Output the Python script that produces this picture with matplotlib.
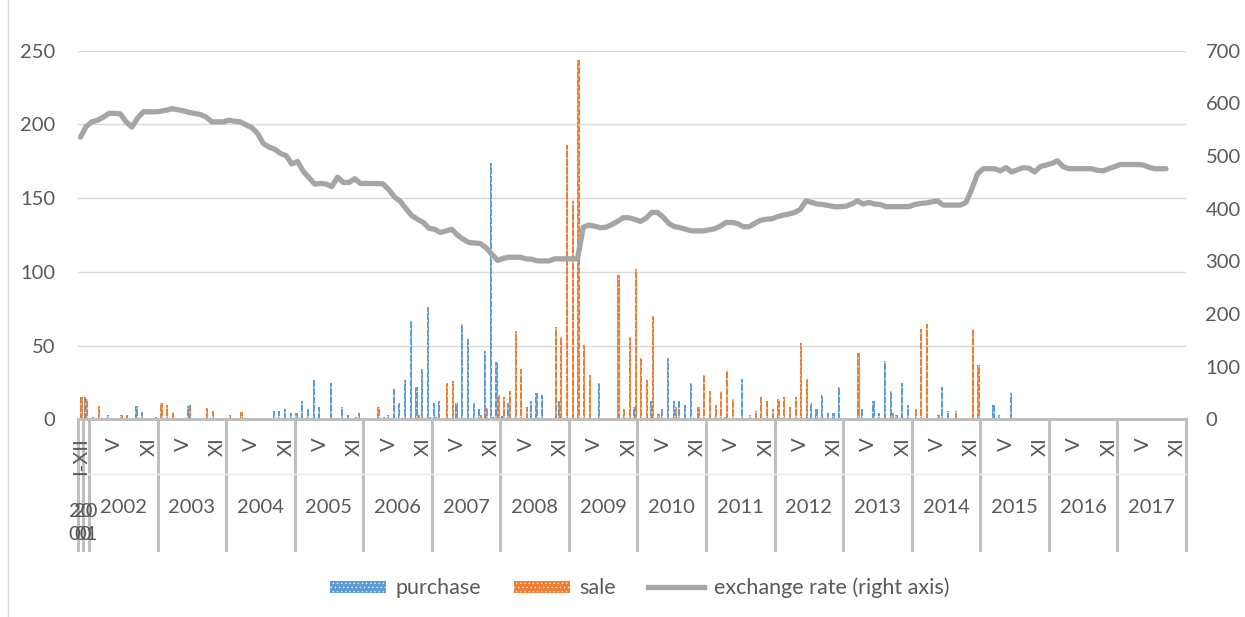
import numpy as np
import matplotlib.pyplot as plt
from matplotlib.patches import Patch
from matplotlib.lines import Line2D

plt.rcParams['font.family'] = ['Lato', 'DejaVu Sans']
plt.rcParams['hatch.linewidth'] = 0.6

years = ['2000', '2001'] + [str(y) for y in range(2002, 2018)]
months = ['I', 'II', 'III', 'IV', 'V', 'VI', 'VII', 'VIII', 'IX', 'X', 'XI', 'XII']

# 2000 and 2001 are whole-year values, monthly from 2002 on
purchase = [0, 15,
            0, 0, 0, 3, 0, 0, 0, 0, 9, 5, 0, 0,                     # 2002
            0, 0, 0, 0, 0, 9, 0, 0, 0, 0, 0, 0,                     # 2003
            0, 0, 0, 0, 0, 0, 0, 0, 6, 6, 7, 4.5,                   # 2004
            4.5, 12.7, 7, 27, 8.6, 0, 25, 0, 8.6, 3, 0, 4.5,        # 2005
            0, 0, 0, 0, 3, 20.6, 11.5, 27, 66.5, 22, 34, 76,        # 2006
            11.5, 12.7, 0, 0, 11.5, 65, 54.5, 11.5, 7, 46.6, 174, 38.7,  # 2007
            2.5, 11.5, 0, 0, 0, 12.7, 18, 16.7, 0, 0, 12.7, 0,      # 2008
            0, 0, 0, 0, 0, 24.7, 0, 0, 0, 0, 0, 8.6,                # 2009
            0, 0, 12.7, 0, 7, 41.6, 12.7, 12.7, 9.7, 24.7, 0, 0,    # 2010
            0, 0, 0, 2, 0, 1, 27.4, 0, 0, 0, 1, 0,                  # 2011
            0, 0, 0, 0, 0, 0, 11.5, 7, 16.7, 4.3, 4.3, 22,          # 2012
            1, 0, 0, 7, 1, 12.7, 4.3, 39.4, 19.5, 3, 24.7, 9.7,     # 2013
            0, 0, 1, 0, 0, 22, 6, 0, 1, 0, 0, 0,                    # 2014
            0, 0, 10, 3, 0, 18, 0, 0, 0, 0, 0, 0,                   # 2015
            0, 0, 0, 0, 0, 0, 0, 0, 0, 0, 0, 0,                     # 2016
            0, 0, 0, 0, 0, 0, 0, 0, 0, 0, 0, 0]                     # 2017

sale = [15, 14,
        2, 9, 0, 1, 0, 3, 3, 0, 0, 0, 0, 2,                         # 2002
        11.5, 10, 5, 0, 0, 10, 0, 0, 7.5, 6, 0, 0,                  # 2003
        3, 0, 5, 0, 0, 0, 0, 0, 0, 0, 0, 0,                         # 2004
        0, 0, 0, 0, 0, 0, 0, 1, 0, 0, 1.5, 0,                       # 2005
        0, 0, 8.6, 2, 0, 0, 0, 0, 0, 3, 0, 2,                       # 2006
        2, 0, 25, 26, 0, 0, 0, 0, 3, 8, 2, 16.5,                    # 2007
        15.4, 19.5, 60, 34, 8.6, 0, 0, 0, 0, 63, 56, 186,           # 2008
        148, 244, 50.7, 30, 0, 0, 0, 0, 98, 7, 56, 102,             # 2009
        41.6, 27, 70, 4, 0, 0, 8.6, 1, 0, 0, 8.6, 30,               # 2010
        19.5, 9.7, 19.5, 33, 13.8, 0, 0, 3, 6, 15.4, 12.7, 7,       # 2011
        13.8, 15.4, 8.6, 15.4, 52, 27.4, 0, 0, 0, 0, 0, 0,          # 2012
        0, 0, 45, 0, 0, 0, 0, 0, 4.3, 0, 0, 0,                      # 2013
        7, 61.5, 65, 0, 3, 0, 0, 6, 0, 0, 61.5, 37,                 # 2014
        0, 0, 0, 0, 0, 0, 0, 0, 0, 0, 0, 0,                         # 2015
        0, 0, 0, 0, 0, 0, 0, 0, 0, 0, 0, 0,                         # 2016
        0, 0, 0, 0, 0, 0, 0, 0, 0, 0, 0, 0]                         # 2017

rate = [536, 556,
        565, 568, 574, 581, 581, 580, 565, 555, 572, 584, 584, 584,  # 2002
        585, 587, 590, 588, 586, 583, 581, 579, 574, 565, 565, 565,  # 2003
        568, 566, 565, 559, 554, 543, 524, 517, 513, 505, 501, 485,  # 2004
        490, 471, 459, 447, 448, 447, 442, 460, 450, 450, 457, 448,  # 2005
        448, 448, 448, 447, 436, 422, 414, 400, 387, 380, 374, 363,  # 2006
        361, 355, 358, 361, 350, 342, 336, 335, 334, 326, 314, 302,  # 2007
        306, 308, 308, 308, 305, 304, 301, 301, 301, 305, 305, 305,  # 2008
        305, 305, 365, 369, 367, 364, 365, 370, 376, 383, 383, 380,  # 2009
        376, 382, 393, 393, 384, 372, 366, 364, 361, 358, 358, 358,  # 2010
        360, 362, 367, 374, 374, 372, 366, 366, 372, 378, 380, 381,  # 2011
        385, 388, 390, 393, 399, 415, 412, 409, 408, 406, 404, 404,  # 2012
        405, 409, 415, 409, 412, 409, 408, 404, 404, 404, 404, 404,  # 2013
        408, 410, 411, 413, 415, 407, 407, 407, 407, 412, 437, 466,  # 2014
        476, 476, 476, 472, 478, 470, 474, 478, 477, 470, 480, 483,  # 2015
        486, 491, 480, 476, 476, 476, 476, 476, 473, 472, 476, 480,  # 2016
        484, 484, 484, 484, 483, 479, 476, 476, 476, np.nan, np.nan, np.nan]  # 2017

# category labels (two levels)
cat_year = ['2000', '2001']
cat_month = ['I-XII', 'I-XII']
for y in years[2:]:
    for m in months:
        cat_year.append(y)
        cat_month.append(m)

x = np.arange(len(cat_month))
blue = '#5b9bd5'
orange = '#ed7d31'
grey = '#a5a5a5'
txt = '#595959'
fs = 14.5

fig = plt.figure(figsize=(12.45, 6.17), dpi=100)
ax = fig.add_axes([0.0623, 0.3201, 0.8903, 0.5977])

ax.bar(x - 0.18, purchase, 0.38, color=blue, edgecolor='#dcebf7', hatch='....', linewidth=0)
ax.bar(x + 0.18, sale, 0.38, color=orange, edgecolor='#fbe0cf', hatch='....', linewidth=0)

ax.set_xlim(-0.5, len(x) - 0.5)
ax.set_ylim(0, 250)
ax.set_yticks(np.arange(0, 251, 50))
ax.yaxis.grid(True, color='#d9d9d9', linewidth=1.0)
ax.set_axisbelow(True)
ax.tick_params(axis='y', length=0, pad=16, labelsize=fs, labelcolor=txt)
ax.set_xticks([])
for s in ['top', 'right', 'left']:
    ax.spines[s].set_visible(False)
ax.spines['bottom'].set_color('#bfbfbf')
ax.spines['bottom'].set_linewidth(2.2)

ax2 = ax.twinx()
ax2.plot(x, rate, color=grey, linewidth=3.8, solid_capstyle='round', solid_joinstyle='round')
ax2.set_ylim(0, 700)
ax2.set_yticks(np.arange(0, 701, 100))
ax2.tick_params(axis='y', length=0, pad=14, labelsize=fs, labelcolor=txt)
for s in ax2.spines.values():
    s.set_visible(False)

# multi-level category axis
tr = ax.get_xaxis_transform()
for i in range(0, len(x), 6):
    ax.text(x[i], -0.048, cat_month[i], transform=tr, rotation=90, ha='center', va='top',
            fontsize=fs, color=txt)

bounds = [-0.5]
for i in range(1, len(x)):
    if cat_year[i] != cat_year[i - 1]:
        bounds.append(i - 0.5)
bounds.append(len(x) - 0.5)
for b in bounds:
    ax.plot([b, b], [0, -0.354], transform=tr, color='#bfbfbf', linewidth=2.2, clip_on=False)
ax.plot([-0.5, len(x) - 0.5], [-0.148, -0.148], transform=tr, color='#eeeeee', linewidth=1, clip_on=False)

for k in range(len(bounds) - 1):
    y = cat_year[int(bounds[k] + 0.5)]
    xc = (bounds[k] + bounds[k + 1]) / 2
    if k < 2:
        # too narrow: Excel wraps these and they run into each other
        ax.text(xc, -0.28, y[:2] + '\n' + y[2:], transform=tr, ha='center', va='center',
                fontsize=fs, color=txt, linespacing=1.45)
    else:
        ax.text(xc, -0.239, y, transform=tr, ha='center', va='center', fontsize=fs, color=txt)

handles = [Patch(facecolor=blue, edgecolor='#dcebf7', hatch='....', linewidth=0),
           Patch(facecolor=orange, edgecolor='#fbe0cf', hatch='....', linewidth=0),
           Line2D([0], [0], color=grey, linewidth=3.8)]
fig.legend(handles, ['purchase', 'sale', 'exchange rate (right axis)'], loc='center',
           bbox_to_anchor=(0.514, 0.047), ncol=3, frameon=False, fontsize=15.5,
           handlelength=2.6, handleheight=0.5, handletextpad=0.45, columnspacing=1.5,
           labelcolor=txt)

fig.add_artist(Line2D([8 / 1245, 8 / 1245], [0, 1], color='#d9d9d9', linewidth=1))

fig.savefig('out.png', dpi=100)
